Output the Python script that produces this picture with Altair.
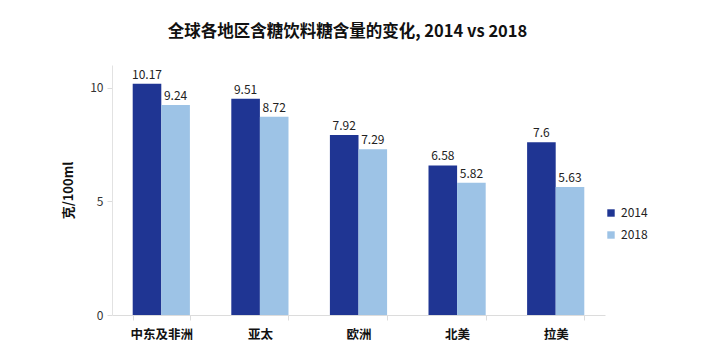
import altair as alt
import pandas as pd

regions = ["中东及非洲", "亚太", "欧洲", "北美", "拉美"]
years = ["2014", "2018"]
v2014 = [10.17, 9.51, 7.92, 6.58, 7.6]
v2018 = [9.24, 8.72, 7.29, 5.82, 5.63]

rows = []
for r, a, b in zip(regions, v2014, v2018):
    rows.append({"region": r, "year": "2014", "value": a})
    rows.append({"region": r, "year": "2018", "value": b})
df = pd.DataFrame(rows)

FONT = "Noto Sans CJK SC"

x = alt.X("region:N", sort=regions, title=None,
          scale=alt.Scale(paddingInner=0.42, paddingOuter=0.21),
          axis=alt.Axis(labelAngle=0, labelFontWeight="bold", labelFontSize=12.5,
                        labelColor="#111", labelPadding=8, domainColor="#dcdcdc",
                        tickColor="#dcdcdc", tickBand="extent", tickSize=5, labelFont=FONT))
y = alt.Y("value:Q", title="克/100ml", scale=alt.Scale(domain=[0, 11]),
          axis=alt.Axis(values=[0, 5, 10], grid=False, labelFontSize=12, labelColor="#333",
                        domainColor="#e2e2e2", tickColor="#dcdcdc", tickSize=5,
                        titleFontSize=13, titleFontWeight="bold", titleColor="#111",
                        titlePadding=14, labelPadding=4, titleFont=FONT, labelFont=FONT))
color = alt.Color("year:N", scale=alt.Scale(domain=years, range=["#1f3593", "#9dc3e6"]),
                  legend=alt.Legend(title=None, orient="none", legendX=493, legendY=142,
                                    symbolType="square", symbolSize=55, labelFontSize=12,
                                    labelColor="#222", rowPadding=10, labelFont=FONT,
                                    symbolStrokeWidth=0))

base = alt.Chart(df).encode(x=x, xOffset=alt.XOffset("year:N", sort=years))
bars = base.mark_bar().encode(y=y, color=color)
labels = base.mark_text(dy=-9, fontSize=12, color="#222", font=FONT).encode(
    y="value:Q", text=alt.Text("value:Q"))

chart = (bars + labels).properties(
    width=493, height=250,
    title=alt.TitleParams("全球各地区含糖饮料糖含量的变化, 2014 vs 2018", fontSize=16.5,
                          fontWeight="bold", color="#111", font=FONT, offset=25, dx=-11),
    autosize=alt.AutoSizeParams(type="none"),
    padding={"left": 104, "top": 57, "right": 93, "bottom": 35},
).configure_view(stroke=None)

chart.save("out.html", embed_options={"renderer": "svg", "actions": False})
